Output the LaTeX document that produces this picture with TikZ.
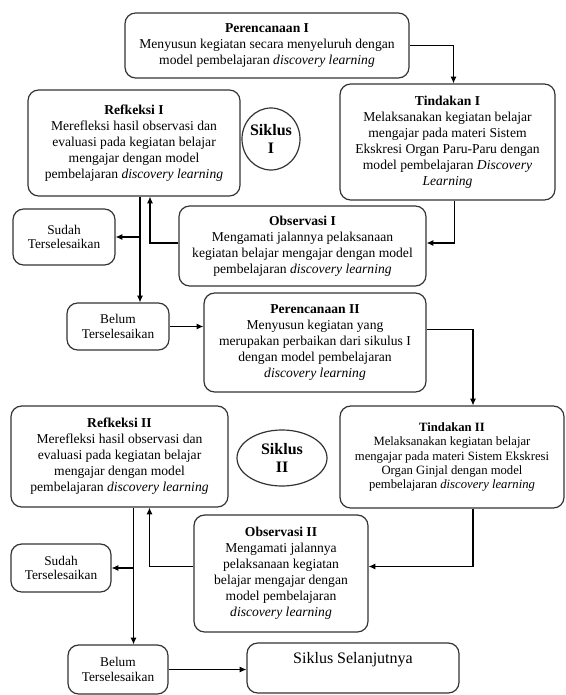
\documentclass[tikz,border=0pt]{standalone}
\usepackage{fontspec}
\setmainfont{Liberation Serif}
\usetikzlibrary{arrows.meta,calc,shapes.geometric}
\newcommand\mkbox[7][]{\node[bx,minimum width={(#5-#3)*0.75pt},minimum height={(#6-#4)*0.75pt},#1] (#2) at ({(#3+#5)/2},{(#4+#6)/2}) {#7};}
\begin{document}
\begin{tikzpicture}[x=0.75pt,y=-0.75pt,
  bx/.style={draw=black!80, line width=0.9pt, rounded corners=8pt, align=center, inner sep=0pt, font=\fontsize{10.2}{12}\selectfont},
  small/.style={font=\fontsize{9.5}{10.8}\selectfont},
  tiny/.style={font=\fontsize{10}{11}\selectfont},
  el/.style={draw=black!80, line width=0.9pt, ellipse, align=center, inner sep=-3pt, font=\fontsize{12}{13.5}\selectfont\bfseries},
  arr/.style={draw=black, line width=0.8pt, -{Latex[length=5pt,width=4.5pt]}},
  ln/.style={draw=black, line width=0.8pt}]
\useasboundingbox (0,0) rectangle (565,695);

\mkbox{perI}{125}{13}{409}{78}{\textbf{Perencanaan I}\\Menyusun kegiatan secara menyeluruh dengan\\model pembelajaran \textit{discovery learning}}
\mkbox{tinI}{340}{84}{555}{200}{\textbf{Tindakan I}\\Melaksanakan kegiatan belajar\\mengajar pada materi Sistem\\Ekskresi Organ Paru-Paru dengan\\model pembelajaran \textit{Discovery}\\\textit{Learning}}
\mkbox{refI}{28}{90}{240}{196}{\textbf{Refkeksi I}\\Merefleksi hasil observasi dan\\evaluasi pada kegiatan belajar\\mengajar dengan model\\pembelajaran \textit{discovery learning}}
\node[el, minimum width=58*0.75pt, minimum height=62*0.75pt] (sikI) at (271,139) {Siklus\\I};
\mkbox[tiny]{sudI}{13}{209}{115}{265}{Sudah\\Terselesaikan}
\mkbox{obsI}{179}{206}{426}{286}{\textbf{Observasi I}\\Mengamati jalannya pelaksanaan\\kegiatan belajar mengajar dengan model\\pembelajaran \textit{discovery learning}}
\mkbox[tiny]{belI}{67}{303}{169}{350}{Belum\\Terselesaikan}
\mkbox{perII}{204}{293}{426}{392}{\textbf{Perencanaan II}\\Menyusun kegiatan yang\\merupakan perbaikan dari sikulus I\\dengan model pembelajaran\\\textit{discovery learning}}
\mkbox[small]{tinII}{340}{406}{564}{508}{\textbf{Tindakan II}\\Melaksanakan kegiatan belajar\\mengajar pada materi Sistem Ekskresi\\Organ Ginjal dengan model\\pembelajaran \textit{discovery learning}}
\mkbox{refII}{11}{406}{228}{507}{\textbf{Refkeksi II}\\Merefleksi hasil observasi dan\\evaluasi pada kegiatan belajar\\mengajar dengan model\\pembelajaran \textit{discovery learning}}
\node[el, minimum width=90*0.75pt, minimum height=56*0.75pt] (sikII) at (282,458) {Siklus\\II};
\mkbox{obsII}{194}{515}{368}{632}{\textbf{Observasi II}\\Mengamati jalannya\\pelaksanaan kegiatan\\belajar mengajar dengan\\model pembelajaran\\\textit{discovery learning}}
\mkbox[tiny]{sudII}{11}{544}{111}{592}{Sudah\\Terselesaikan}
\mkbox[tiny]{belII}{68}{645}{168}{694}{Belum\\Terselesaikan}
\mkbox{ss}{247}{643}{459}{693}{}
\node[font=\fontsize{12}{13}\selectfont, anchor=north, inner sep=0pt] (sstext) at ($(ss.north)+(0,10)$) {Siklus Selanjutnya};

% cycle I
\draw[arr] (perI.east) -| ($(tinI.north)+(6,0)$);
\draw[arr] ($(tinI.south)+(7,0)$) |- ($(obsI.east)+(0,-3)$);
\draw[arr] ($(obsI.west)+(0,-3)$) -| ($(refI.south)+(16,0)$);
\coordinate (j1) at ($(refI.south)+(6,0)$);
\draw[arr] (j1) -- (j1 |- belI.north);
\draw[arr] (j1 |- sudI.east) -- (sudI.east);
\draw[arr] (belI.east) -- (belI.east -| perII.west);
% cycle II
\draw[arr] ($(perII.east)+(0,-13)$) -| ($(tinII.north)+(21,0)$);
\draw[arr] ($(tinII.south)+(21,0)$) |- ($(obsII.east)+(0,-7)$);
\draw[arr] ($(obsII.west)+(0,-7)$) -| ($(refII.south)+(30,0)$);
\coordinate (j2) at ($(refII.south)+(14,0)$);
\draw[arr] (j2) -- (j2 |- belII.north);
\draw[arr] (j2 |- sudII.east) -- (sudII.east);
\draw[arr] (belII.east) -- (belII.east -| ss.west);
\end{tikzpicture}
\end{document}
